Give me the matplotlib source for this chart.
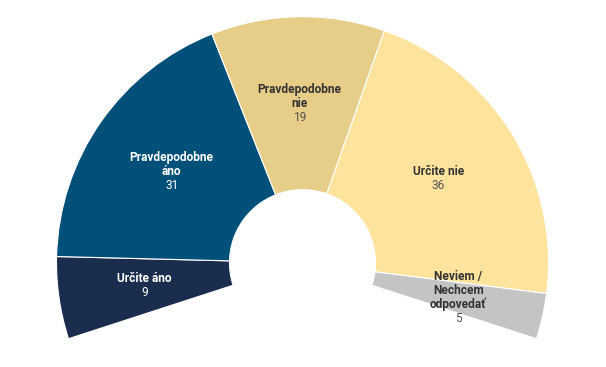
import numpy as np
import matplotlib
matplotlib.use("Agg")
from matplotlib import pyplot as plt
from matplotlib.patches import Wedge

plt.rcParams['font.family'] = ['Roboto', 'DejaVu Sans']

labels = ["Určite áno", "Pravdepodobne\náno", "Pravdepodobne\nnie", "Určite nie", "Neviem /\nNechcem\nodpovedať"]
values = [9, 31, 19, 36, 5]
colors = ["#1b2d4f", "#00507a", "#e6cd88", "#fde39c", "#c4c4c4"]
text_colors = ["white", "white", "#333333", "#333333", "#333333"]
value_colors = ["white", "white", "#555555", "#555555", "#555555"]

# geometry in pixel units (y up)
cx, cy = 302.5, 367 - 262.7
r_out, r_in = 246, 73
start_angle, end_angle = 198, -18
line_px = 14

fig = plt.figure(figsize=(6.06, 3.67), dpi=100)
ax = fig.add_axes([0, 0, 1, 1])
ax.set_xlim(0, 606)
ax.set_ylim(0, 367)
ax.set_aspect('equal')
ax.axis('off')

total = sum(values)
span = start_angle - end_angle
theta = start_angle
for lab, v, c, tc, vc in zip(labels, values, colors, text_colors, value_colors):
    t2 = theta - v / total * span
    w = Wedge((cx, cy), r_out, t2, theta, width=r_out - r_in,
              facecolor=c, edgecolor='white', linewidth=0.8)
    ax.add_patch(w)

    mid = np.radians((theta + t2) / 2)
    r_mid = (r_out + r_in) / 2
    tx = cx + r_mid * np.cos(mid)
    ty = cy + r_mid * np.sin(mid)

    lines = lab.split("\n") + [str(v)]
    n = len(lines)
    for i, line in enumerate(lines):
        off = ((n - 1) / 2 - i) * line_px * 0.72
        is_val = i == n - 1
        ax.annotate(line, (tx, ty), xytext=(0, off), textcoords='offset points',
                    ha='center', va='center', fontsize=8.6,
                    fontweight='normal' if is_val else 'bold',
                    color=vc if is_val else tc)
    theta = t2

fig.savefig("out.png", dpi=100)
